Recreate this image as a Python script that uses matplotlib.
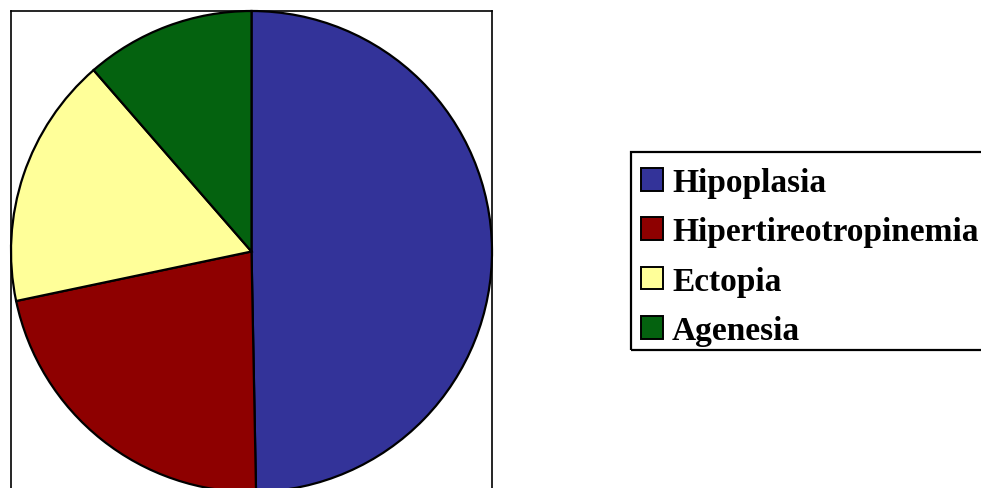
import numpy as np
import matplotlib.pyplot as plt
from matplotlib.patches import Rectangle

# slice shares (percent)
labels = ['Hipoplasia', 'Hipertireotropinemia', 'Ectopia', 'Agenesia']
values = [49.7, 22.0, 16.9, 11.4]
colors = ['#333399', '#8E0000', '#FFFF99', '#04620F']

fig = plt.figure(figsize=(9.81, 4.89), dpi=100)
W, H = 981.0, 489.0
ax = fig.add_axes([11 / W, (H - 493) / H, 481 / W, 481 / H])

wedges, _ = ax.pie(values, colors=colors, startangle=90, counterclock=False,
                   wedgeprops=dict(edgecolor='black', linewidth=1.6))
ax.set_xlim(-1.0, 1.0)
ax.set_ylim(-1.0, 1.0)
ax.set_aspect('auto')
ax.set_frame_on(True)
for s in ax.spines.values():
    s.set_color('black')
    s.set_linewidth(1.2)
ax.set_xticks([])
ax.set_yticks([])

# legend box drawn separately (runs off the right edge like the original)
fig.patches.append(Rectangle((631 / W, 1 - 351 / H), 380 / W, 198 / H,
                             transform=fig.transFigure, fill=False,
                             edgecolor='black', linewidth=1.6))

leg = fig.legend(wedges, labels, loc='upper left',
                 bbox_to_anchor=(641 / W, 1 - 168 / H),
                 prop={'family': 'Liberation Serif', 'weight': 'bold', 'size': 24},
                 frameon=False, handlelength=0.66, handleheight=0.66,
                 handletextpad=0.27, labelspacing=0.55, borderpad=0,
                 borderaxespad=0)
for h in leg.legend_handles:
    h.set_edgecolor('black')
    h.set_linewidth(1.4)

fig.savefig('out.png', dpi=100)
